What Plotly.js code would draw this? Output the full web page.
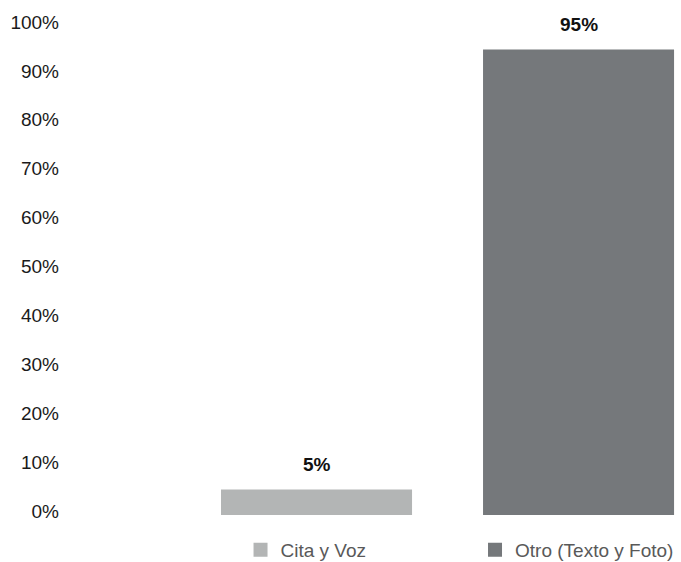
<!DOCTYPE html>
<html>
<head>
<meta charset="utf-8">
<script src="https://cdn.plot.ly/plotly-3.0.1.min.js"></script>
<style>html,body{margin:0;padding:0;background:#fff;}#chart{width:681px;height:562px;}</style>
</head>
<body>
<div id="chart"></div>
<script>
var categories = ["Cita y Voz", "Otro (Texto y Foto)"];
var values = [5, 95];
var colors = ["#b3b5b5", "#75787b"];
var valueLabels = ["5%", "95%"];
var tickVals = [0, 10, 20, 30, 40, 50, 60, 70, 80, 90, 100];
var tickText = ["0%", "10%", "20%", "30%", "40%", "50%", "60%", "70%", "80%", "90%", "100%"];

var FONT = "'Liberation Sans', Arial, Helvetica, sans-serif";
var legendIds = ["legend", "legend2"];
var legendX = [0.2907, 0.6683];

var traces = categories.map(function (c, i) {
  return {
    type: "bar",
    name: c,
    x: [i],
    y: [values[i]],
    width: 0.7214,
    legend: legendIds[i],
    marker: { color: colors[i], line: { color: colors[i], width: 2 } },
    hoverinfo: "none"
  };
});

var annotations = categories.map(function (c, i) {
  return {
    x: i, y: values[i], xref: "x", yref: "y",
    text: "<b>" + valueLabels[i] + "</b>",
    showarrow: false, yanchor: "middle", yshift: 26,
    font: { family: FONT, size: 19, color: "#111111" }
  };
});

function legendDef(i) {
  return {
    orientation: "h", x: legendX[i], xanchor: "left", y: -0.0716, yanchor: "middle",
    font: { family: FONT, size: 19, color: "#595959" },
    bgcolor: "rgba(0,0,0,0)", borderwidth: 0
  };
}

var layout = {
  width: 681, height: 562,
  margin: { l: 60, r: 0, t: 26, b: 47, autoexpand: false },
  paper_bgcolor: "#ffffff", plot_bgcolor: "#ffffff",
  font: { family: FONT, size: 19, color: "#222222" },
  showlegend: true,
  legend: legendDef(0),
  legend2: legendDef(1),
  xaxis: {
    range: [-0.979, 1.391], showticklabels: false, showgrid: false,
    zeroline: false, showline: false, ticks: "", fixedrange: true
  },
  yaxis: {
    range: [0, 100], tickvals: tickVals, ticktext: tickText,
    showgrid: false, zeroline: false, showline: false, ticks: "",
    ticklabelshift: -4,
    tickfont: { family: FONT, size: 19, color: "#1a1a1a" },
    fixedrange: true
  },
  annotations: annotations,
  bargap: 0
};

Plotly.newPlot("chart", traces, layout, { displayModeBar: false, staticPlot: true });
</script>
</body>
</html>
